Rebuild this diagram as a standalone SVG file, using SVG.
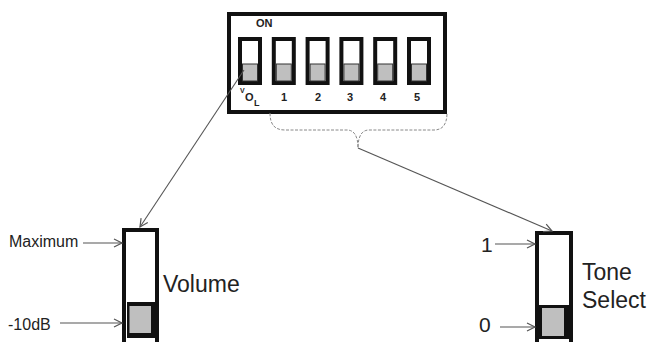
<svg xmlns="http://www.w3.org/2000/svg" width="649" height="342" viewBox="0 0 649 342">
<defs>
<marker id="arr" markerUnits="userSpaceOnUse" markerWidth="12" markerHeight="12" refX="9" refY="5" orient="auto">
<path d="M1,1 L9,5 L1,9" fill="none" stroke="#555" stroke-width="1.2"/>
</marker>
<style>
.box{fill:#fff;stroke:#111;stroke-width:4}
.sw{fill:#fff;stroke:#111;stroke-width:4}
.knob{fill:#bfbfbf;stroke:#333;stroke-width:1}
.num{font-family:"Liberation Sans",Arial,sans-serif;font-weight:bold;font-size:11px;fill:#222;text-anchor:middle}
.lbl{font-family:"Liberation Sans",Arial,sans-serif;fill:#222}
.con{fill:none;stroke:#555;stroke-width:1.1}
.brace{fill:none;stroke:#888;stroke-width:1;stroke-dasharray:3,1.5}
</style>
</defs>
<rect width="649" height="342" fill="#fff"/>

<g id="dip-switch">
<rect class="box" x="229" y="14" width="216" height="98"/>
<text class="lbl" x="256" y="27" font-size="11" font-weight="bold">ON</text>
<g id="sw0"><rect class="sw" x="240" y="39" width="20" height="44"/><rect class="knob" x="242.5" y="64" width="15" height="17"/></g>
<g id="sw1"><rect class="sw" x="273.8" y="39" width="20" height="44"/><rect class="knob" x="276.3" y="64" width="15" height="17"/></g>
<g id="sw2"><rect class="sw" x="307.6" y="39" width="20" height="44"/><rect class="knob" x="310.1" y="64" width="15" height="17"/></g>
<g id="sw3"><rect class="sw" x="341.4" y="39" width="20" height="44"/><rect class="knob" x="343.9" y="64" width="15" height="17"/></g>
<g id="sw4"><rect class="sw" x="375.2" y="39" width="20" height="44"/><rect class="knob" x="377.7" y="64" width="15" height="17"/></g>
<g id="sw5"><rect class="sw" x="409" y="39" width="20" height="44"/><rect class="knob" x="411.5" y="64" width="15" height="17"/></g>
<text class="lbl" font-weight="bold" fill="#222"><tspan x="240" y="93" font-size="7">V</tspan><tspan x="245" y="101" font-size="11">O</tspan><tspan x="254" y="106" font-size="9">L</tspan></text>
<text class="num" x="284" y="101">1</text>
<text class="num" x="318" y="101">2</text>
<text class="num" x="350" y="101">3</text>
<text class="num" x="383" y="101">4</text>
<text class="num" x="417" y="101">5</text>
</g>

<g id="volume-switch">
<rect class="box" x="124" y="230" width="33" height="114"/>
<rect x="127" y="302" width="28" height="36" fill="#111"/>
<rect x="129.5" y="306" width="21.5" height="27" fill="#bfbfbf"/>
<text class="lbl" x="163" y="292" font-size="23">Volume</text>
<text class="lbl" x="9" y="247" font-size="16">Maximum</text>
<text class="lbl" x="8" y="330" font-size="16">-10dB</text>
</g>

<g id="tone-switch">
<rect class="box" x="537" y="233" width="34" height="111"/>
<rect x="539" y="305" width="30" height="34" fill="#111"/>
<rect x="542" y="308" width="22" height="28" fill="#bfbfbf"/>
<text class="lbl" x="582" y="280" font-size="23">Tone</text>
<text class="lbl" x="582" y="308" font-size="23">Select</text>
<text class="lbl" x="481" y="252" font-size="21">1</text>
<text class="lbl" x="479" y="332" font-size="21">0</text>
</g>

<g id="connectors">
<path class="brace" d="M270,113 C270,125 275,130 285,130 L347,130 C354,130 358,136 358,148 C358,136 362,130 369,130 L434,130 C442,130 447,125 447,113"/>
<line class="con" x1="244" y1="70" x2="140" y2="227" marker-end="url(#arr)"/>
<line class="con" x1="358" y1="148" x2="552" y2="231" marker-end="url(#arr)"/>
<line class="con" x1="83" y1="243" x2="122" y2="243" marker-end="url(#arr)"/>
<line class="con" x1="60" y1="323" x2="122" y2="323" marker-end="url(#arr)"/>
<line class="con" x1="495" y1="244" x2="535" y2="244" marker-end="url(#arr)"/>
<line class="con" x1="500" y1="327" x2="535" y2="327" marker-end="url(#arr)"/>
</g>
</svg>
